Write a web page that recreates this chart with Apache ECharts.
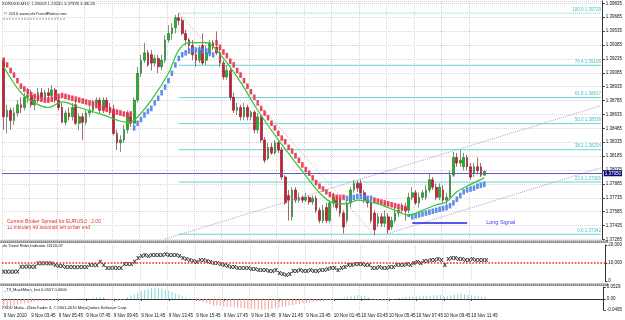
<!DOCTYPE html>
<html>
<head>
<meta charset="utf-8">
<script src="https://cdn.jsdelivr.net/npm/echarts@6/dist/echarts.min.js"></script>
<style>
  html, body { margin: 0; padding: 0; background: #fff; }
  #chart { width: 625px; height: 320px; }
</style>
</head>
<body>
<div id="chart"></div>
<script>
// x labels, one every 8 bars (2 hours of M15)
var timeLabels = ['9 Nov 2010', '9 Nov 03:45', '9 Nov 05:45', '9 Nov 07:45', '9 Nov 09:45', '9 Nov 11:45',
    '9 Nov 13:45', '9 Nov 15:45', '9 Nov 17:45', '9 Nov 19:45', '9 Nov 21:45', '9 Nov 23:45',
    '10 Nov 01:45', '10 Nov 03:45', '10 Nov 05:45', '10 Nov 07:45', '10 Nov 09:45', '10 Nov 11:45'];
var slotCount = 175; // bars + empty shift area on the right

// [open, close, low, high]
var candles = [
    [1.3922,1.3861,1.3847,1.3924],[1.3861,1.3868,1.3843,1.3874],[1.3868,1.3857,1.3847,1.3871],[1.3857,1.3865,1.3852,1.3871],
    [1.3865,1.3874,1.3861,1.3879],[1.3874,1.3871,1.3865,1.3882],[1.3871,1.3882,1.3868,1.3887],[1.3882,1.3884,1.3876,1.3892],
    [1.3884,1.3874,1.3871,1.3890],[1.3874,1.3879,1.3868,1.3884],[1.3879,1.3887,1.3876,1.3892],[1.3887,1.3882,1.3879,1.3892],
    [1.3882,1.3887,1.3879,1.3890],[1.3887,1.3884,1.3879,1.3892],[1.3884,1.3890,1.3882,1.3895],[1.3890,1.3879,1.3876,1.3892],
    [1.3879,1.3871,1.3868,1.3882],[1.3871,1.3855,1.3854,1.3876],[1.3855,1.3865,1.3852,1.3868],[1.3865,1.3861,1.3857,1.3871],
    [1.3861,1.3871,1.3857,1.3876],[1.3874,1.3854,1.3852,1.3879],[1.3854,1.3861,1.3847,1.3865],[1.3861,1.3855,1.3836,1.3865],
    [1.3855,1.3865,1.3852,1.3868],[1.3865,1.3868,1.3861,1.3874],[1.3868,1.3876,1.3865,1.3879],[1.3876,1.3879,1.3871,1.3882],
    [1.3879,1.3868,1.3865,1.3882],[1.3868,1.3879,1.3865,1.3882],[1.3879,1.3871,1.3868,1.3882],[1.3871,1.3868,1.3863,1.3876],
    [1.3868,1.3843,1.3841,1.3874],[1.3843,1.3833,1.3825,1.3847],[1.3833,1.3836,1.3823,1.3841],[1.3836,1.3847,1.3833,1.3852],
    [1.3847,1.3865,1.3843,1.3868],[1.3861,1.3854,1.3850,1.3865],[1.3854,1.3879,1.3852,1.3882],[1.3879,1.3908,1.3876,1.3915],
    [1.3908,1.3922,1.3904,1.3928],[1.3922,1.3930,1.3919,1.3941],[1.3930,1.3917,1.3915,1.3933],[1.3928,1.3919,1.3911,1.3933],
    [1.3919,1.3924,1.3915,1.3928],[1.3924,1.3915,1.3908,1.3928],[1.3915,1.3922,1.3911,1.3928],[1.3922,1.3944,1.3919,1.3949],
    [1.3944,1.3951,1.3941,1.3960],[1.3951,1.3957,1.3944,1.3962],[1.3957,1.3968,1.3951,1.3971],[1.3968,1.3965,1.3960,1.3973],
    [1.3965,1.3951,1.3949,1.3968],[1.3951,1.3944,1.3938,1.3955],[1.3944,1.3938,1.3933,1.3946],[1.3938,1.3928,1.3922,1.3944],
    [1.3928,1.3922,1.3915,1.3933],[1.3922,1.3933,1.3919,1.3938],[1.3938,1.3919,1.3917,1.3951],[1.3922,1.3930,1.3917,1.3938],
    [1.3930,1.3941,1.3926,1.3944],[1.3941,1.3936,1.3933,1.3944],[1.3936,1.3930,1.3928,1.3953],[1.3930,1.3919,1.3915,1.3933],
    [1.3919,1.3904,1.3901,1.3922],[1.3904,1.3911,1.3901,1.3917],[1.3911,1.3882,1.3879,1.3915],[1.3882,1.3868,1.3865,1.3887],
    [1.3868,1.3871,1.3863,1.3876],[1.3871,1.3861,1.3857,1.3874],[1.3861,1.3871,1.3857,1.3876],[1.3871,1.3861,1.3857,1.3874],
    [1.3861,1.3866,1.3857,1.3868],[1.3866,1.3847,1.3843,1.3868],[1.3847,1.3861,1.3843,1.3865],[1.3861,1.3836,1.3833,1.3863],
    [1.3836,1.3814,1.3811,1.3839],[1.3816,1.3828,1.3814,1.3833],[1.3828,1.3822,1.3820,1.3833],[1.3822,1.3833,1.3820,1.3836],
    [1.3833,1.3825,1.3822,1.3836],[1.3825,1.3796,1.3793,1.3828],[1.3796,1.3768,1.3766,1.3798],[1.3776,1.3771,1.3749,1.3782],
    [1.3753,1.3782,1.3749,1.3785],[1.3782,1.3771,1.3768,1.3785],[1.3771,1.3774,1.3768,1.3779],[1.3774,1.3771,1.3768,1.3776],
    [1.3771,1.3774,1.3769,1.3779],[1.3774,1.3769,1.3766,1.3776],[1.3769,1.3773,1.3766,1.3776],[1.3773,1.3760,1.3757,1.3776],
    [1.3760,1.3749,1.3746,1.3763],[1.3749,1.3760,1.3746,1.3766],[1.3763,1.3749,1.3746,1.3768],[1.3749,1.3768,1.3746,1.3771],
    [1.3768,1.3774,1.3763,1.3779],[1.3771,1.3763,1.3760,1.3774],[1.3771,1.3757,1.3753,1.3774],[1.3757,1.3742,1.3735,1.3760],
    [1.3749,1.3768,1.3746,1.3771],[1.3768,1.3782,1.3763,1.3785],[1.3782,1.3789,1.3779,1.3793],[1.3789,1.3784,1.3780,1.3792],
    [1.3789,1.3779,1.3776,1.3793],[1.3779,1.3771,1.3768,1.3782],[1.3771,1.3768,1.3763,1.3774],[1.3768,1.3749,1.3746,1.3771],
    [1.3757,1.3739,1.3733,1.3760],[1.3746,1.3753,1.3742,1.3757],[1.3753,1.3746,1.3742,1.3757],[1.3746,1.3753,1.3742,1.3760],
    [1.3753,1.3739,1.3735,1.3757],[1.3742,1.3749,1.3739,1.3753],[1.3749,1.3757,1.3746,1.3763],[1.3757,1.3760,1.3753,1.3766],
    [1.3760,1.3763,1.3757,1.3768],[1.3763,1.3760,1.3749,1.3768],[1.3760,1.3774,1.3757,1.3779],[1.3774,1.3779,1.3771,1.3785],
    [1.3779,1.3768,1.3766,1.3782],[1.3768,1.3774,1.3763,1.3779],[1.3774,1.3779,1.3771,1.3782],[1.3774,1.3782,1.3771,1.3787],
    [1.3782,1.3793,1.3779,1.3800],[1.3793,1.3785,1.3782,1.3796],[1.3785,1.3774,1.3771,1.3789],[1.3774,1.3785,1.3771,1.3789],
    [1.3782,1.3771,1.3768,1.3787],[1.3771,1.3774,1.3763,1.3779],[1.3774,1.3798,1.3771,1.3803],[1.3798,1.3817,1.3796,1.3823],
    [1.3817,1.3811,1.3807,1.3822],[1.3811,1.3814,1.3807,1.3825],[1.3807,1.3817,1.3803,1.3822],[1.3817,1.3807,1.3803,1.3820],
    [1.3807,1.3796,1.3793,1.3811],[1.3800,1.3807,1.3796,1.3811],[1.3807,1.3803,1.3800,1.3817],[1.3807,1.3798,1.3796,1.3811],
    [1.3798,1.3802,1.3798,1.3803]
];

// trend rider blocks (one per bar) and the runs where they are blue
var riderBlocks = [
    1.3922,1.3917,1.3911,1.3906,1.3900,1.3894,1.3891,1.3888,1.3885,1.3883,1.3881,1.3880,1.3879,1.3879,1.3880,1.3882,
    1.3883,1.3884,1.3883,1.3882,1.3881,1.3880,1.3879,1.3878,1.3877,1.3876,1.3875,1.3873,1.3871,1.3870,1.3869,1.3868,
    1.3867,1.3866,1.3865,1.3864,1.3863,1.3864,
    1.3849,1.3854,1.3858,1.3863,1.3867,1.3870,1.3876,1.3881,1.3887,1.3893,1.3900,1.3908,1.3917,1.3924,1.3928,1.3930,
    1.3932,1.3933,1.3933,1.3933,1.3932,1.3932,1.3930,1.3928,
    1.3941,1.3936,1.3931,1.3927,1.3921,1.3917,1.3911,1.3906,1.3900,1.3894,1.3888,1.3882,1.3876,1.3870,1.3865,1.3860,
    1.3854,1.3849,1.3843,1.3838,1.3834,1.3828,1.3824,1.3819,1.3814,1.3809,1.3804,1.3800,1.3795,1.3790,1.3786,1.3783,
    1.3780,1.3777,1.3775,1.3774,1.3774,1.3774,
    1.3773,1.3773,1.3774,1.3775,1.3775,1.3774,1.3773,1.3773,
    1.3771,1.3770,1.3769,1.3768,1.3767,1.3766,1.3765,1.3764,1.3763,1.3762,
    1.3753,1.3753,1.3754,1.3755,1.3756,1.3757,1.3758,1.3759,1.3760,1.3761,1.3762,1.3763,1.3765,1.3768,1.3772,1.3776,
    1.3780,1.3782,1.3783,1.3784,1.3786,1.3787,1.3788
];
var blueRuns = [[38, 61], [100, 107], [118, 140]];

// green average, read at a few bars
var maPoints = [[0,1.3915],[5,1.3887],[9,1.3876],[13,1.3871],[17,1.3877],[22,1.3871],[29,1.3863],[36,1.3855],
    [38,1.3857],[43,1.3879],[48,1.3908],[51,1.3933],[54,1.3941],[59,1.3941],[62,1.3933],[68,1.3904],[74,1.3868],
    [80,1.3836],[86,1.3807],[92,1.3779],[96,1.3768],[100,1.3767],[103,1.3771],[109,1.3767],[114,1.3760],[118,1.3755],
    [122,1.3760],[126,1.3766],[129,1.3769],[132,1.3780],[136,1.3788],[140,1.3795]];

var fibLevels = ['100.0', '76.4', '61.8', '50.0', '38.2', '23.6', '0.0'];
var fibPrices = [1.39729, 1.39166, 1.38817, 1.38536, 1.38254, 1.37905, 1.37342];
var fibStart = 51;
var hLines = [1.37950, 1.37420, 1.37330];
var bidPrice = 1.38018;
var channelLines = [[[47, 1.3729], [174, 1.3873]], [[112, 1.3735], [174, 1.3806]]];
var fibDiagonal = [[51, 1.3973], [108, 1.3733]];
var signalLine = [[119, 1.3747], [135, 1.3747]];
var signalArrow = [118, 1.3750];

var riderValues = [
    5200,5200,5100,5200,5300,7900,7900,8000,7900,7900,9800,9800,9900,9800,9700,8900,8300,8300,7800,
    7800,7800,7700,7800,7800,7800,8900,8900,8800,10700,8900,7200,7200,7300,7200,7200,9400,9400,9500,
    10700,12800,13900,14400,13900,14400,14400,14400,14400,14900,14400,14400,14400,13900,
    12800,12200,11700,11100,10600,11700,11700,11100,10600,10000,10000,9400,8900,8300,
    7800,7800,7200,7200,7200,7200,6700,6700,6100,6100,6100,5600,5600,6100,4400,3900,3300,3900,
    5600,5600,6100,5600,5600,6100,5600,5600,6100,6100,6700,7200,7200,6100,7200,7800,
    8900,8900,9400,9400,9400,8900,8900,7200,7200,7800,7200,7200,7800,7800,8900,8900,8900,9400,8900,
    10000,10600,10000,11100,11100,11700,11700,12200,11700,8900,12200,
    12800,12800,12200,12200,11700,11700,12200,11700,11700,11700,11700
];
var riderLevel = 10000;

var histValues = [
    -0.030,-0.032,-0.030,-0.028,-0.025,-0.022,-0.020,
    -0.018,-0.015,-0.012,-0.010,-0.008,-0.008,-0.007,-0.006,-0.005,-0.005,
    -0.004,-0.003,-0.002,-0.002,-0.001,0.001,0.002,0.003,
    0.004,0.006,0.008,0.009,0.007,-0.004,-0.007,-0.010,-0.009,-0.006,-0.003,0.008,0.014,
    0.020,0.028,0.035,0.040,0.045,0.048,0.049,0.048,
    0.045,0.040,0.036,0.030,0.024,0.018,0.012,
    0.007,0.003,-0.002,-0.006,
    -0.010,-0.015,-0.020,-0.024,-0.028,-0.030,-0.032,-0.033,
    -0.035,-0.036,-0.038,-0.040,-0.041,-0.042,-0.044,-0.045,-0.046,-0.047,-0.048,-0.048,-0.047,-0.045,-0.042,-0.040,
    -0.037,-0.034,-0.030,-0.027,-0.025,-0.023,-0.020,-0.018,-0.016,-0.015,-0.013,-0.012,-0.010,-0.008,-0.006,-0.004,
    0.002,0.004,0.006,0.009,0.012,0.014,0.016,0.015,0.012,0.008,
    -0.003,-0.006,-0.008,-0.009,-0.008,-0.006,-0.004,-0.002,
    0.005,0.007,0.009,0.010,0.009,0.011,0.012,0.013,0.012,0.014,0.016,0.017,0.016,0.013,0.012,0.015,
    0.018,0.020,0.022,0.021,0.019,0.016,0.013,0.012,0.010,0.008
];
var histTicks = [-0.0495, 0, 0.0529];

var FONT = 'Liberation Sans';
var FIB_COLOR = '#6cd2d4';
var slots = [];
for (var i = 0; i < slotCount; i++) slots.push('s' + i);

function isLabelSlot(i) {
    return i % 8 === 0 && i / 8 < timeLabels.length;
}
function isBlue(i) {
    for (var k = 0; k < blueRuns.length; k++) {
        if (i >= blueRuns[k][0] && i <= blueRuns[k][1]) return true;
    }
    return false;
}

function makeXAxis(idx, showLabels) {
    return {
        type: 'category',
        gridIndex: idx,
        data: slots,
        boundaryGap: true,
        axisLine: { show: showLabels, lineStyle: { color: '#333', width: 1 } },
        axisTick: {
            show: showLabels, length: 2, alignWithLabel: true,
            interval: function (i) { return isLabelSlot(i); },
            lineStyle: { color: '#333' }
        },
        axisLabel: {
            show: showLabels, interval: 0, align: 'left', margin: 3,
            fontSize: 4.5, fontFamily: FONT, color: '#111',
            formatter: function (v) {
                var i = +v.slice(1);
                return isLabelSlot(i) ? timeLabels[i / 8] : '';
            }
        },
        splitLine: {
            show: true,
            interval: function (i) { return isLabelSlot(i); },
            lineStyle: { color: '#d6d6d6', type: 'dotted', width: 1 }
        }
    };
}

var axisText = { fontSize: 4.5, fontFamily: FONT, color: '#111', margin: 3 };

// fibonacci levels as plain two-point lines, label on the right end
var fibSeries = fibPrices.map(function (p, k) {
    return {
        type: 'line', xAxisIndex: 0, yAxisIndex: 0, z: 2,
        showSymbol: true, symbol: 'circle', symbolSize: 0.1, silent: true,
        itemStyle: { color: 'rgba(0,0,0,0)' },
        lineStyle: { color: FIB_COLOR, width: 1, type: k === 0 ? 'dotted' : 'solid' },
        label: { show: false },
        data: [[fibStart, p], {
            value: [slotCount - 1, p],
            label: {
                show: true, position: 'top', align: 'right', distance: 1,
                formatter: fibLevels[k] + ' ' + p.toFixed(5),
                fontSize: 4.5, fontFamily: FONT, color: '#4fc0c0'
            }
        }]
    };
});

var tagLabel = function (p) {
    return {
        show: true, position: 'end', distance: 1,
        formatter: p.toFixed(5), fontSize: 4.5, fontFamily: FONT,
        color: '#fff', backgroundColor: '#0a0a78', padding: [1, 1, 0, 1]
    };
};
var hMarks = hLines.map(function (p) {
    return { yAxis: p, lineStyle: { color: '#5a5ac8', width: 1, type: 'solid' }, label: tagLabel(p) };
});
hMarks.push({ yAxis: bidPrice, lineStyle: { opacity: 0 }, label: tagLabel(bidPrice) });

var lineMarks = channelLines.map(function (seg) {
    return [{ coord: seg[0], lineStyle: { color: '#a8a8bc', type: 'dotted', width: 1 }, label: { show: false } },
            { coord: seg[1] }];
});
lineMarks.push([{ coord: fibDiagonal[0], lineStyle: { color: '#e2b0b0', type: 'dotted', width: 1 }, label: { show: false } },
                { coord: fibDiagonal[1] }]);
lineMarks.push([{ coord: signalLine[0], lineStyle: { color: '#1f1fe0', type: 'solid', width: 1.6 }, label: { show: false } },
                { coord: signalLine[1] }]);

var chart = echarts.init(document.getElementById('chart'));
chart.setOption({
    animation: false,
    backgroundColor: '#fff',
    grid: [
        { left: 2, right: 17, top: 1, height: 238.5 },
        { left: 2, right: 17, top: 245, height: 36 },
        { left: 2, right: 17, top: 287, height: 23 }
    ],
    xAxis: [makeXAxis(0, false), makeXAxis(1, false), makeXAxis(2, true)],
    yAxis: [
        {
            type: 'value', gridIndex: 0, position: 'right',
            min: 1.37285, max: 1.3986, interval: 0.0015,
            axisLine: { show: true, lineStyle: { color: '#333' } },
            axisTick: { show: true, length: 2, lineStyle: { color: '#333' } },
            axisLabel: Object.assign({ showMaxLabel: false, formatter: function (v) { return v.toFixed(5); } }, axisText),
            splitLine: { show: true, lineStyle: { color: '#d6d6d6', type: 'dotted' } }
        },
        {
            type: 'value', gridIndex: 1, position: 'right',
            min: 0, max: 20000, interval: 10000,
            axisLine: { show: true, lineStyle: { color: '#333' } },
            axisTick: { show: true, length: 2, lineStyle: { color: '#333' } },
            axisLabel: axisText,
            splitLine: { show: false }
        },
        {
            type: 'value', gridIndex: 2, position: 'right',
            min: histTicks[0], max: histTicks[2],
            axisLine: { show: true, lineStyle: { color: '#333' } },
            axisTick: { show: true, length: 2, customValues: histTicks, lineStyle: { color: '#333' } },
            axisLabel: Object.assign({
                customValues: histTicks,
                formatter: function (v) { return v === 0 ? '0.00' : v.toFixed(4); }
            }, axisText),
            splitLine: { show: false }
        }
    ],
    series: fibSeries.concat([
        {
            type: 'candlestick', xAxisIndex: 0, yAxisIndex: 0,
            data: candles, barWidth: 2.2, z: 3,
            itemStyle: {
                color: '#12c012', color0: '#dd1530',
                borderColor: '#3d6e3d', borderColor0: '#7d2a32', borderWidth: 0.7
            }
        },
        {
            type: 'scatter', xAxisIndex: 0, yAxisIndex: 0, z: 4,
            symbol: 'rect', symbolSize: [2.6, 5.5],
            data: riderBlocks.map(function (p, i) {
                return { value: [i, p], itemStyle: { color: isBlue(i) ? '#4f82e6' : '#e6304c', opacity: 0.9 } };
            })
        },
        {
            type: 'line', xAxisIndex: 0, yAxisIndex: 0, z: 5,
            data: maPoints, smooth: 0.35, showSymbol: false,
            lineStyle: { color: '#32c832', width: 1.2 }
        },
        {
            type: 'line', xAxisIndex: 0, yAxisIndex: 0, data: [], z: 2,
            markLine: {
                silent: true, symbol: ['none', 'none'], animation: false,
                data: lineMarks.concat(hMarks)
            },
            markPoint: {
                silent: true, animation: false,
                data: [
                    {
                        coord: signalLine[1], symbol: 'circle', symbolSize: 0,
                        label: {
                            show: true, position: 'right', distance: 19, formatter: 'Long Signal',
                            fontSize: 5.5, fontFamily: FONT, color: '#3b3bf0'
                        }
                    },
                    {
                        coord: signalArrow, symbol: 'emptyCircle', symbolSize: 3,
                        itemStyle: { color: '#fff', borderColor: '#33b833', borderWidth: 1 },
                        label: { show: false }
                    }
                ]
            }
        },
        {
            type: 'scatter', xAxisIndex: 1, yAxisIndex: 1,
            symbol: 'path://M0,0L3,0L5,3L7,0L10,0L6.5,5L10,10L7,10L5,7L3,10L0,10L3.5,5Z',
            symbolSize: 4,
            itemStyle: { color: '#111' },
            data: riderValues.map(function (v, i) { return [i, v]; }),
            markLine: {
                silent: true, symbol: ['none', 'none'], animation: false,
                label: { show: false },
                lineStyle: { color: '#ff1a1a', type: 'dotted', width: 1.6 },
                data: [{ yAxis: riderLevel }]
            }
        },
        {
            type: 'bar', xAxisIndex: 2, yAxisIndex: 2,
            barWidth: 1,
            data: histValues.map(function (v) {
                return { value: v, itemStyle: { color: v >= 0 ? '#7fd6d9' : '#eea0a0' } };
            })
        }
    ]),
    graphic: [
        { type: 'rect', shape: { x: 0, y: 240.5, width: 608, height: 2.6 }, style: { fill: '#8c8c8c' }, silent: true },
        { type: 'line', shape: { x1: 0, y1: 241.8, x2: 608, y2: 241.8 }, style: { stroke: '#d8d8d8', lineDash: [1, 1], lineWidth: 1 }, silent: true },
        { type: 'rect', shape: { x: 0, y: 283.5, width: 608, height: 2.6 }, style: { fill: '#8c8c8c' }, silent: true },
        { type: 'line', shape: { x1: 0, y1: 284.8, x2: 608, y2: 284.8 }, style: { stroke: '#d8d8d8', lineDash: [1, 1], lineWidth: 1 }, silent: true },
        { type: 'text', x: 2, y: 2, style: { text: 'EURUSD,M15  1.38018 1.38030 1.37998 1.38018', font: '4.2px ' + FONT, fill: '#111', verticalAlign: 'top' } },
        { type: 'text', x: 4, y: 12, style: { text: '\u00a9 2010 www.sfxTrendRider.com', font: '4.4px ' + FONT, fill: '#222', verticalAlign: 'top' } },
        { type: 'line', shape: { x1: 3, y1: 19, x2: 66, y2: 19 }, style: { stroke: '#777', lineDash: [2, 1], lineWidth: 0.8 } },
        { type: 'text', x: 7, y: 219.5, style: { text: 'Current Broker Spread for EURUSD : 2.00', font: '5px ' + FONT, fill: '#e0302a', verticalAlign: 'top' } },
        { type: 'text', x: 7, y: 225.5, style: { text: '11 minutes 49 seconds left to bar end', font: '5px ' + FONT, fill: '#e0302a', verticalAlign: 'top' } },
        { type: 'text', x: 2, y: 244, style: { text: 'sfx Trend Rider Indicator 11120.07', font: '4px ' + FONT, fill: '#111', verticalAlign: 'top' } },
        { type: 'text', x: 4, y: 287.5, style: { text: '_T3_MackMom_hist 0.0557 0.0000', font: '4px ' + FONT, fill: '#111', verticalAlign: 'top' } },
        { type: 'text', x: 2, y: 306, style: { text: 'FXDD Malta - MetaTrader 4, \u00a9 2001-2010 MetaQuotes Software Corp.', font: '4px ' + FONT, fill: '#111', verticalAlign: 'top' } }
    ]
});
</script>
</body>
</html>
